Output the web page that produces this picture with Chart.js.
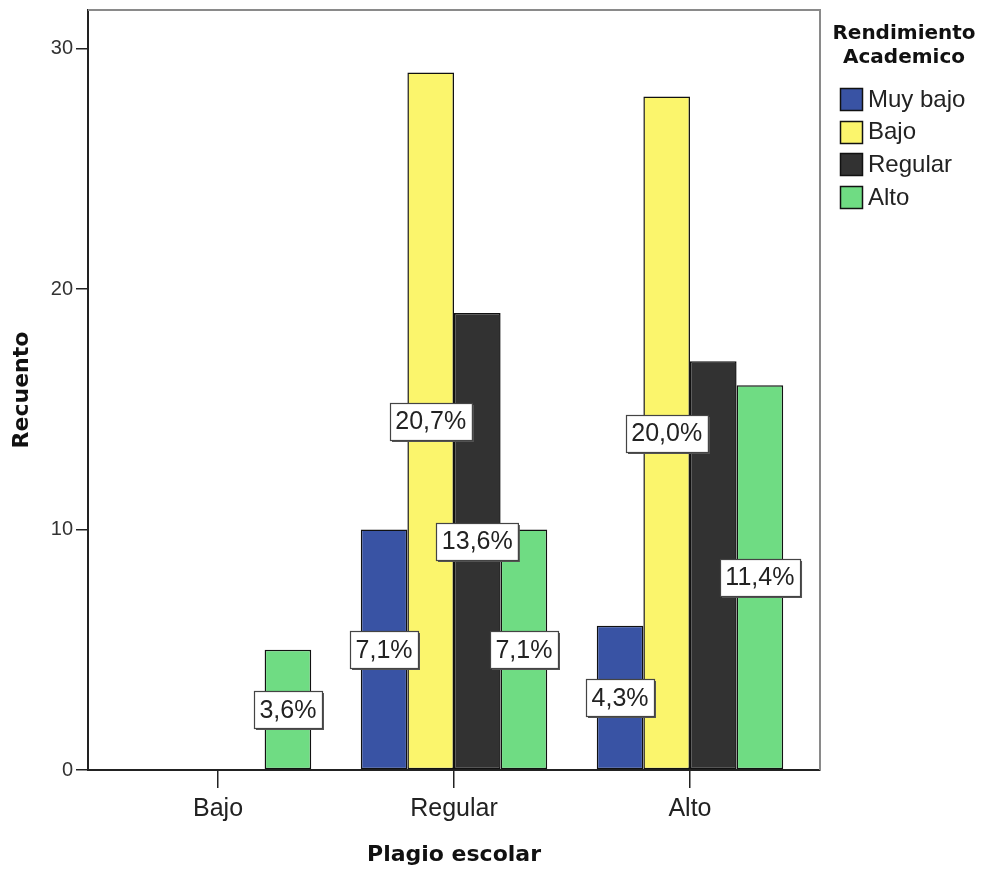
<!DOCTYPE html>
<html>
<head>
<meta charset="utf-8">
<script src="https://cdn.jsdelivr.net/npm/chart.js@4/dist/chart.umd.min.js"></script>
<style>
  html, body { margin: 0; padding: 0; background: #fff; }
  #wrap { width: 984px; height: 875px; position: relative; }
</style>
</head>
<body>
<div id="wrap"><canvas id="c" width="984" height="875"></canvas></div>
<script>
const categories = ['Bajo', 'Regular', 'Alto'];
const seriesNames = ['Muy bajo', 'Bajo', 'Regular', 'Alto'];
const muyBajo = [0, 10, 6];
const bajo = [0, 29, 28];
const regular = [0, 19, 17];
const alto = [5, 10, 16];
const muyBajoPct = [null, '7,1%', '4,3%'];
const bajoPct = [null, '20,7%', '20,0%'];
const regularPct = [null, '13,6%', null];
const altoPct = [ '3,6%', '7,1%', '11,4%'];
const yTicks = [0, 10, 20, 30];
const legendTitle = ['Rendimiento', 'Academico'];
const xTitle = 'Plagio escolar';
const yTitle = 'Recuento';

const colors = ['#3953a4', '#fbf56c', '#323232', '#6fdc83'];
const allValues = [muyBajo, bajo, regular, alto];
const allPct = [muyBajoPct, bajoPct, regularPct, altoPct];

const datasets = seriesNames.map((name, s) => ({
  label: name,
  data: allValues[s].map((v, i) => ({ x: i, y: v })),
  pct: allPct[s],
  backgroundColor: colors[s],
  borderColor: '#111',
  borderWidth: 1.5,
  borderSkipped: false,
  categoryPercentage: 0.79,
  barPercentage: 1.0
}));

const frameAndLabels = {
  id: 'frameAndLabels',
  afterDatasetsDraw(chart) {
    const ctx = chart.ctx;
    const a = chart.chartArea;
    ctx.save();
    ctx.strokeStyle = '#8a8a8a';
    ctx.lineWidth = 2;
    ctx.beginPath();
    ctx.moveTo(a.left, a.top);
    ctx.lineTo(a.right, a.top);
    ctx.lineTo(a.right, a.bottom);
    ctx.stroke();
    ctx.restore();

    ctx.save();
    ctx.font = '25px "Liberation Sans", Arial, sans-serif';
    ctx.textAlign = 'center';
    ctx.textBaseline = 'middle';
    const yScale = chart.scales.y;
    chart.data.datasets.forEach((ds, di) => {
      const meta = chart.getDatasetMeta(di);
      meta.data.forEach((bar, i) => {
        const txt = ds.pct[i];
        if (!txt) return;
        const v = ds.data[i].y;
        const cx = bar.x;
        const cy = yScale.getPixelForValue(v / 2);
        const w = ctx.measureText(txt).width + 11;
        const h = 37;
        const x0 = Math.round(cx - w / 2) + 0.5;
        const y0 = Math.round(cy - h / 2) + 0.5;
        ctx.fillStyle = '#555';
        ctx.fillRect(x0 + 1.5, y0 + 1.5, w, h);
        ctx.fillStyle = '#fff';
        ctx.fillRect(x0, y0, w, h);
        ctx.strokeStyle = '#444';
        ctx.lineWidth = 1.2;
        ctx.strokeRect(x0, y0, w, h);
        ctx.fillStyle = '#222';
        ctx.fillText(txt, cx, cy + 1);
      });
    });
    ctx.restore();
  },
  afterDraw(chart) {
    const ctx = chart.ctx;
    ctx.save();
    ctx.fillStyle = '#111';
    ctx.font = 'bold 20px "DejaVu Sans", sans-serif';
    ctx.textAlign = 'center';
    ctx.textBaseline = 'middle';
    legendTitle.forEach((t, k) => ctx.fillText(t, 904, 34 + k * 24));
    ctx.font = '24px "Liberation Sans", Arial, sans-serif';
    ctx.textAlign = 'left';
    chart.data.datasets.forEach((ds, k) => {
      const cy = 99 + k * 32.7;
      const bx = 840.5, by = Math.round(cy - 11) + 0.5;
      ctx.fillStyle = ds.backgroundColor;
      ctx.fillRect(bx, by, 22, 22);
      ctx.strokeStyle = '#111';
      ctx.lineWidth = 1.5;
      ctx.strokeRect(bx, by, 22, 22);
      ctx.fillStyle = '#222';
      ctx.fillText(ds.label, 868, cy + 1);
    });
    ctx.restore();
  }
};

new Chart(document.getElementById('c'), {
  type: 'bar',
  data: { datasets },
  plugins: [frameAndLabels],
  options: {
    responsive: false,
    animation: false,
    layout: { padding: { left: 0, right: 164, top: 10, bottom: 0 } },
    plugins: { legend: { display: false }, tooltip: { enabled: false } },
    scales: {
      x: {
        type: 'linear',
        min: -0.551,
        max: 2.551,
        offset: false,
        afterBuildTicks(scale) { scale.ticks = categories.map((c, i) => ({ value: i })); },
        afterFit(scale) { scale.height = 105; scale.paddingLeft = 0; scale.paddingRight = 0; },
        ticks: {
          callback: (v) => categories[v] ?? '',
          font: { family: '"Liberation Sans", Arial, sans-serif', size: 25 },
          color: '#222',
          padding: 6,
          maxRotation: 0,
          autoSkip: false
        },
        grid: { display: true, offset: false, drawOnChartArea: false, drawTicks: true, tickLength: 18, color: '#222', lineWidth: 1.5 },
        border: { display: true, color: '#222', width: 2 },
        title: {
          display: true, text: xTitle, color: '#111',
          font: { family: '"DejaVu Sans", sans-serif', size: 22, weight: 'bold' },
          padding: { top: 0, bottom: 7 }
        }
      },
      y: {
        min: 0,
        max: 31.6,
        afterBuildTicks(scale) { scale.ticks = yTicks.map(v => ({ value: v })); },
        afterFit(scale) { scale.width = 88; scale.paddingTop = 0; scale.paddingBottom = 0; },
        ticks: {
          font: { family: '"Liberation Sans", Arial, sans-serif', size: 20 },
          color: '#333',
          padding: 3
        },
        grid: { display: true, drawOnChartArea: false, drawTicks: true, tickLength: 12, color: '#222', lineWidth: 1.5 },
        border: { display: true, color: '#222', width: 2 },
        title: {
          display: true, text: yTitle, color: '#111',
          font: { family: '"DejaVu Sans", sans-serif', size: 22, weight: 'bold' },
          padding: { top: 9, bottom: 0 }
        }
      }
    }
  }
});
</script>
</body>
</html>
